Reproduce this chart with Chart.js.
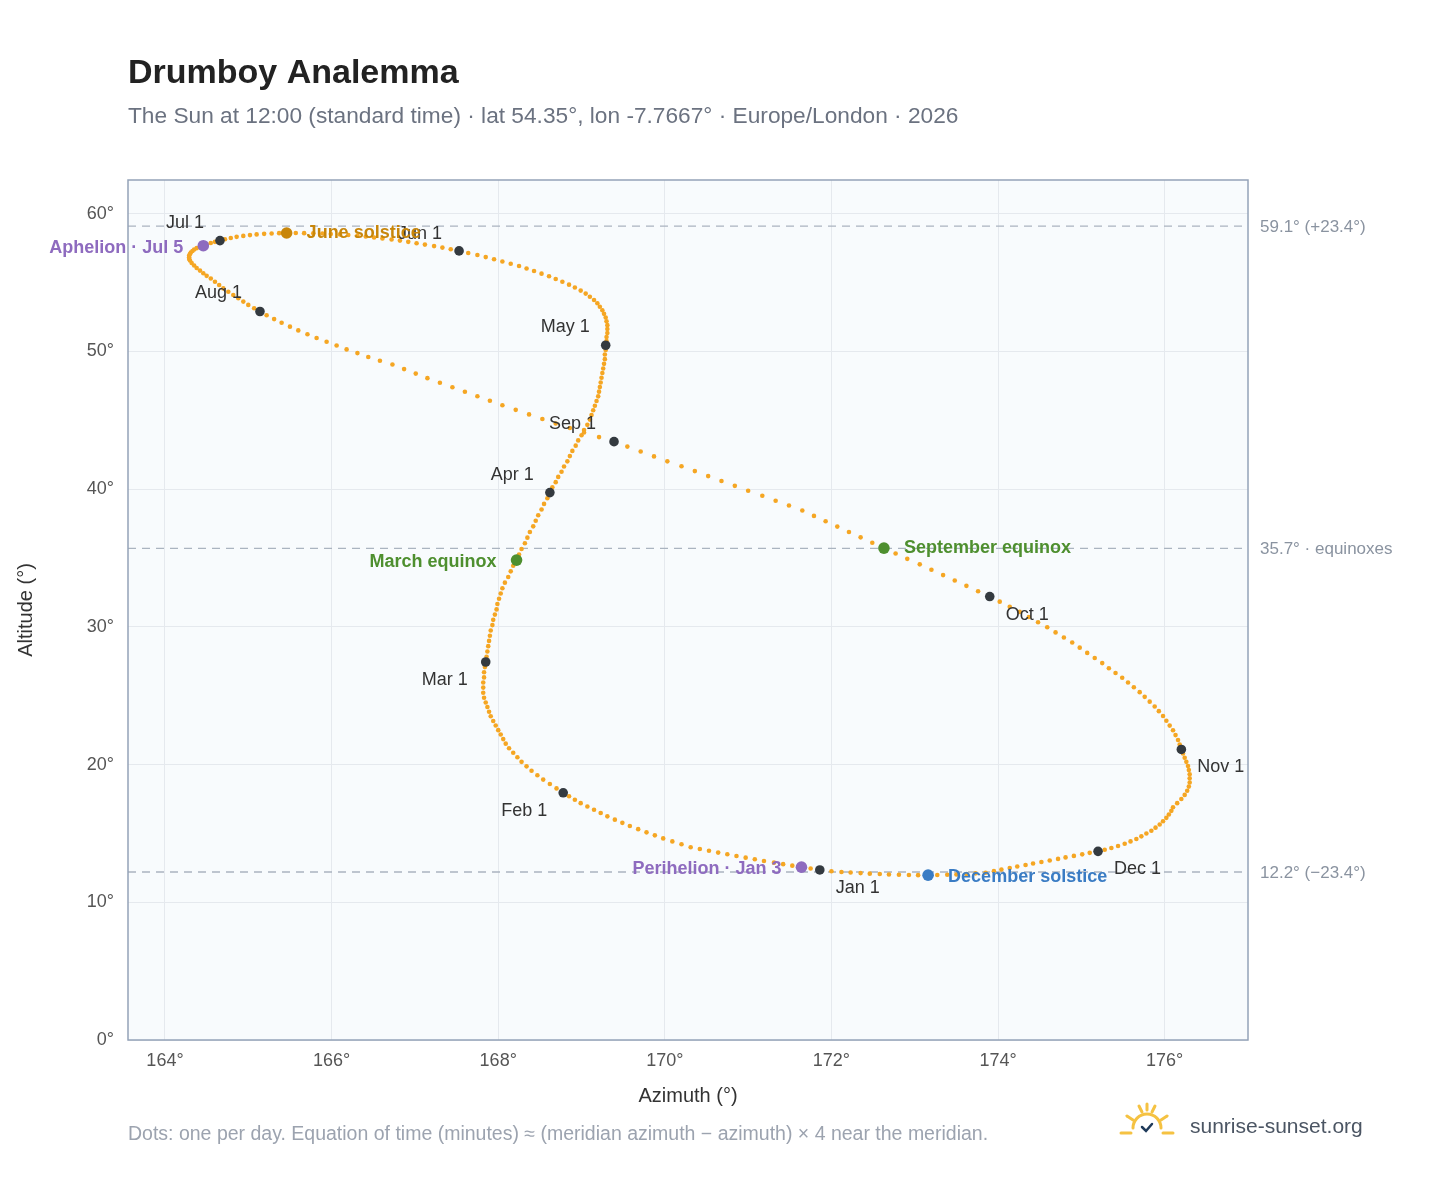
<!DOCTYPE html>
<html><head><meta charset="utf-8">
<script src="https://cdn.jsdelivr.net/npm/chart.js@4"></script>
<style>html,body{margin:0;padding:0;background:#fff}#w{width:1448px;height:1188px;position:relative}</style>
</head><body><div id="w"><canvas id="c" width="1448" height="1188"></canvas></div>
<script>
// Daily azimuth (deg) Jan 1 .. Dec 31, 2026
const azimuth = [
171.86,171.75,171.64,171.53,171.42,171.31,171.19,171.08,170.97,170.86,170.75,170.64,170.53,170.42,170.31,
170.20,170.09,169.98,169.88,169.78,169.68,169.58,169.49,169.40,169.31,169.23,169.15,169.07,168.99,168.92,168.85,168.78,
168.70,168.62,168.54,168.47,168.40,168.34,168.28,168.23,168.18,168.13,168.09,168.06,168.03,168.0,
167.97,167.94,167.91,167.89,167.87,167.85,167.83,
167.82,167.82,167.82,167.83,167.83,167.84,167.85,
167.86,167.87,167.88,167.89,167.9,167.91,167.93,167.94,167.96,167.98,167.99,168.01,168.03,168.05,
168.08,168.12,168.15,168.18,168.22,168.25,168.28,168.32,168.35,168.38,168.42,168.45,168.48,168.52,168.55,168.59,168.62,
168.65,168.69,168.72,168.76,168.79,168.83,168.86,168.89,168.93,168.96,169.0,169.03,169.07,169.1,
169.12,169.14,169.16,169.18,169.2,169.21,169.22,169.23,169.24,169.25,169.26,169.27,169.28,169.28,169.29,169.29,
169.3,169.3,169.31,169.31,169.31,169.3,169.29,169.27,169.25,169.22,169.19,169.15,169.1,169.05,
168.99,168.92,168.85,168.77,168.69,168.61,168.52,168.43,168.34,168.25,168.15,168.05,167.95,167.85,167.75,167.64,167.53,
167.43,167.33,167.23,167.12,167.02,166.92,166.82,166.72,166.61,166.51,166.41,166.31,166.2,166.1,
165.99,165.89,165.78,165.67,165.57,165.46,
165.37,165.28,165.19,165.1,165.02,164.94,164.86,164.79,164.72,164.66,
164.6,164.55,164.5,164.46,164.42,164.38,164.35,
164.33,164.31,164.3,164.29,164.29,164.29,164.3,
164.32,164.35,164.38,164.42,164.46,164.5,164.55,
164.6,164.65,164.7,164.76,164.82,164.88,164.94,165.0,165.07,165.14,
165.22,165.31,165.40,165.50,165.60,165.71,165.82,165.94,166.06,166.18,166.31,166.44,166.58,166.73,
166.87,167.01,167.15,167.3,167.45,167.6,167.75,167.9,168.05,168.21,168.37,168.53,168.69,168.86,169.03,169.21,169.39,
169.55,169.71,169.87,170.03,170.2,170.36,170.52,170.68,170.84,171.0,171.17,171.33,171.49,171.65,
171.79,171.93,172.07,172.21,172.35,172.49,172.63,172.77,172.91,173.06,173.2,173.34,173.48,173.62,173.76,173.9,
174.02,174.14,174.26,174.37,174.48,174.59,174.69,174.79,174.89,174.98,175.07,175.16,175.25,175.33,
175.41,175.49,175.56,175.63,175.7,175.76,175.82,175.88,175.93,175.98,176.02,176.06,176.1,176.13,176.16,176.18,176.2,
176.22,176.24,176.26,176.28,176.29,176.3,
176.3,176.3,176.29,176.27,176.24,176.2,176.15,176.1,
176.08,176.05,176.02,175.98,175.94,175.89,175.84,175.78,175.72,175.66,175.59,175.52,175.44,175.36,175.28,175.2,
175.1,175.01,174.91,174.81,174.72,174.62,174.52,174.42,174.33,174.23,174.14,174.04,173.95,173.85,
173.73,173.62,173.5,173.39,173.27,173.16,173.04,172.93,172.81,172.69,172.58,172.46,172.35,172.23,172.12,172.0];
// Daily altitude (deg)
const altitude = [
12.35,12.45,12.55,12.66,12.77,12.88,13.0,13.12,13.24,13.36,13.49,13.61,13.74,13.87,14.0,
14.21,14.42,14.64,14.86,15.08,15.31,15.54,15.77,16.0,16.24,16.48,16.72,16.96,17.2,17.45,17.7,17.95,
18.27,18.59,18.91,19.23,19.55,19.87,20.2,20.53,20.86,21.19,21.52,21.85,22.18,22.5,
22.84,23.17,23.51,23.84,24.18,24.51,24.85,
25.22,25.59,25.96,26.33,26.71,27.08,27.45,
27.83,28.21,28.6,28.98,29.36,29.74,30.13,30.51,30.89,31.27,31.66,32.04,32.42,32.8,
33.21,33.62,34.03,34.44,34.85,35.25,35.66,36.07,36.48,36.89,37.3,37.71,38.11,38.52,38.93,39.34,39.75,
40.13,40.51,40.89,41.26,41.64,42.02,42.4,42.78,43.16,43.54,43.91,44.29,44.67,45.05,
45.39,45.73,46.06,46.4,46.74,47.08,47.41,47.75,48.09,48.43,48.76,49.1,49.44,49.78,50.11,50.45,
50.75,51.05,51.34,51.63,51.91,52.19,52.46,52.73,52.99,53.25,53.5,53.74,53.97,54.2,
54.42,54.64,54.85,55.06,55.26,55.46,55.65,55.84,56.02,56.2,56.37,56.53,56.69,56.85,57.0,57.15,57.3,
57.42,57.54,57.65,57.76,57.86,57.96,58.05,58.13,58.21,58.28,58.35,58.41,58.46,58.5,
58.53,58.56,58.58,58.59,58.6,58.6,
58.59,58.57,58.54,58.5,58.45,58.39,58.32,58.24,58.15,58.05,
57.96,57.87,57.78,57.68,57.59,57.5,57.4,
57.29,57.18,57.07,56.96,56.84,56.72,56.6,
56.42,56.24,56.06,55.87,55.68,55.49,55.3,
55.06,54.82,54.58,54.34,54.1,53.86,53.62,53.38,53.14,52.9,
52.63,52.35,52.08,51.8,51.53,51.25,50.98,50.7,50.43,50.15,49.88,49.6,49.33,49.05,
48.72,48.39,48.06,47.73,47.4,47.07,46.75,46.42,46.09,45.76,45.43,45.1,44.77,44.44,44.11,43.78,43.45,
43.09,42.74,42.38,42.02,41.66,41.31,40.95,40.59,40.24,39.88,39.52,39.16,38.81,38.45,
38.06,37.67,37.28,36.89,36.5,36.11,35.72,35.33,34.94,34.54,34.15,33.76,33.37,32.98,32.59,32.2,
31.83,31.46,31.09,30.72,30.34,29.97,29.6,29.23,28.86,28.49,28.11,27.74,27.37,27.0,
26.65,26.31,25.96,25.61,25.26,24.92,24.57,24.22,23.88,23.53,23.18,22.83,22.49,22.14,21.79,21.45,21.1,
20.8,20.5,20.2,19.9,19.6,19.3,
19.0,18.7,18.4,18.1,17.8,17.5,17.2,16.9,
16.64,16.38,16.13,15.89,15.65,15.42,15.2,14.99,14.79,14.6,14.42,14.25,14.09,13.94,13.81,13.7,
13.59,13.48,13.37,13.26,13.15,13.04,12.93,12.82,12.71,12.6,12.49,12.38,12.26,12.15,
12.1,12.05,12.02,12.0,11.98,11.97,11.97,11.98,12.0,12.02,12.05,12.08,12.12,12.16,12.2,12.25];

const monthLabels = ["Jan 1","Feb 1","Mar 1","Apr 1","May 1","Jun 1","Jul 1","Aug 1","Sep 1","Oct 1","Nov 1","Dec 1"];
const monthDays = [0,31,59,90,120,151,181,212,243,273,304,334];
const eventLabels = ["Perihelion · Jan 3","March equinox","June solstice","Aphelion · Jul 5","September equinox","December solstice"];
const eventDays = [2,78,171,185,264,354];
const eventColors = ["#8e6bbf","#4e8f2f","#c8860a","#8e6bbf","#4e8f2f","#3a7cc4"];
const refLines = [59.1,35.7,12.2];
const refLabels = ["59.1° (+23.4°)","35.7° · equinoxes","12.2° (−23.4°)"];
const xTicks = [164,166,168,170,172,174,176];

const pts = azimuth.map((a,i)=>({x:a,y:altitude[i]}));
const monthPts = monthDays.map(d=>({x:azimuth[d],y:altitude[d]}));
const eventPts = eventDays.map(d=>({x:azimuth[d],y:altitude[d]}));

const monthOff = [[16,18,'left'],[-16,18,'right'],[-18,18,'right'],[-16,-18,'right'],[-16,-18,'right'],[-17,-17,'right'],[-16,-18,'right'],[-18,-18,'right'],[-18,-18,'right'],[16,18,'left'],[16,18,'left'],[16,18,'left']];
const eventOff = [[-20,2,'right'],[-20,2,'right'],[20,0,'left'],[-20,2,'right'],[20,0,'left'],[20,2,'left']];

const F = '"Liberation Sans", Arial, sans-serif';
const deco = {
  id:'deco',
  beforeDraw(ch){
    const {ctx,chartArea:a}=ch;
    ctx.save();ctx.fillStyle='#f8fbfd';ctx.fillRect(a.left,a.top,a.right-a.left,a.bottom-a.top);ctx.restore();
  },
  beforeDatasetsDraw(ch){
    const {ctx,chartArea:a,scales:{y}}=ch;
    ctx.save();
    refLines.forEach((v,i)=>{
      const py=y.getPixelForValue(v);
      ctx.strokeStyle='#aab4c0';ctx.lineWidth=1.3;ctx.setLineDash([8,6]);
      ctx.beginPath();ctx.moveTo(a.left,py);ctx.lineTo(a.right,py);ctx.stroke();
      ctx.setLineDash([]);ctx.fillStyle='#8a93a0';ctx.font='17px '+F;ctx.textBaseline='middle';ctx.textAlign='left';
      ctx.fillText(refLabels[i],a.right+12,py+1);
    });
    ctx.restore();
  },
  afterDatasetsDraw(ch){
    const {ctx,scales:{x,y},chartArea:a}=ch;
    ctx.save();ctx.textBaseline='middle';
    ctx.font='18px '+F;ctx.fillStyle='#333';
    monthDays.forEach((d,i)=>{
      const px=x.getPixelForValue(azimuth[d]),py=y.getPixelForValue(altitude[d]);
      const o=monthOff[i];ctx.textAlign=o[2];ctx.fillText(monthLabels[i],px+o[0],py+o[1]);
    });
    ctx.font='bold 18px '+F;
    eventDays.forEach((d,i)=>{
      const px=x.getPixelForValue(azimuth[d]),py=y.getPixelForValue(altitude[d]);
      const o=eventOff[i];ctx.textAlign=o[2];ctx.fillStyle=eventColors[i];ctx.fillText(eventLabels[i],px+o[0],py+o[1]);
    });
    ctx.strokeStyle='#94a3b8';ctx.lineWidth=1.5;ctx.strokeRect(a.left,a.top,a.right-a.left,a.bottom-a.top);
    ctx.textAlign='left';ctx.textBaseline='alphabetic';
    ctx.fillStyle='#222';ctx.font='bold 34px '+F;ctx.fillText('Drumboy Analemma',128,83);
    ctx.fillStyle='#6b7280';ctx.font='22.7px '+F;ctx.fillText('The Sun at 12:00 (standard time) · lat 54.35°, lon -7.7667° · Europe/London · 2026',128,123);
    ctx.fillStyle='#9ca3af';ctx.font='19.5px '+F;ctx.fillText('Dots: one per day. Equation of time (minutes) ≈ (meridian azimuth − azimuth) × 4 near the meridian.',128,1140);
    ctx.fillStyle='#4b5563';ctx.font='21px '+F;ctx.fillText('sunrise-sunset.org',1190,1133);
    const cx=1147,cy=1128;ctx.strokeStyle='#f5c242';ctx.lineWidth=3;ctx.lineCap='round';
    ctx.beginPath();ctx.arc(cx,cy,14,Math.PI,2*Math.PI);ctx.stroke();
    [[-26,5,-16,5],[16,5,26,5],[-20,-12,-14,-8],[20,-12,14,-8],[-8,-22,-5,-16],[8,-22,5,-16],[0,-24,0,-18]].forEach(s=>{ctx.beginPath();ctx.moveTo(cx+s[0],cy+s[1]);ctx.lineTo(cx+s[2],cy+s[3]);ctx.stroke();});
    ctx.strokeStyle='#1f3a5a';ctx.lineWidth=2.5;ctx.beginPath();ctx.moveTo(cx-5,cy-1);ctx.lineTo(cx-1,cy+3);ctx.lineTo(cx+5,cy-4);ctx.stroke();
    ctx.restore();
  }
};

new Chart(document.getElementById('c'),{
  type:'scatter',
  data:{datasets:[
    {data:pts,order:3,pointRadius:2.3,pointBackgroundColor:'#f5a623',pointBorderColor:'rgba(0,0,0,0)',pointBorderWidth:0,showLine:false},
    {data:monthPts,order:2,pointRadius:4.8,pointBackgroundColor:'#343a40',pointBorderColor:'rgba(0,0,0,0)',pointBorderWidth:0},
    {data:eventPts,order:1,pointRadius:5.8,pointBackgroundColor:eventColors,pointBorderColor:'rgba(0,0,0,0)',pointBorderWidth:0}
  ]},
  options:{
    responsive:false,animation:false,devicePixelRatio:1,
    layout:{padding:{left:0,right:200,top:180,bottom:80}},
    plugins:{legend:{display:false},tooltip:{enabled:false}},
    scales:{
      x:{type:'linear',min:163.556,max:177,afterBuildTicks(s){s.ticks=xTicks.map(v=>({value:v}));},
        title:{display:true,text:'Azimuth (°)',font:{size:20,family:F},color:'#333',padding:{top:4,bottom:0}},
        ticks:{font:{size:18,family:F},color:'#555',callback:v=>v+'°',padding:10},
        grid:{color:'#e5e9ee',drawTicks:false},border:{display:false},
        afterFit(s){s.height=68;}},
      y:{type:'linear',min:0,max:62.45,afterBuildTicks(s){s.ticks=[0,10,20,30,40,50,60].map(v=>({value:v}));},
        title:{display:true,text:'Altitude (°)',font:{size:20,family:F},color:'#333',padding:{top:14,bottom:0}},
        ticks:{font:{size:18,family:F},color:'#555',callback:v=>v+'°',padding:14},
        grid:{color:'#e5e9ee',drawTicks:false},border:{display:false},
        afterFit(s){s.width=128;}}
    }
  },
  plugins:[deco]
});
</script></body></html>
